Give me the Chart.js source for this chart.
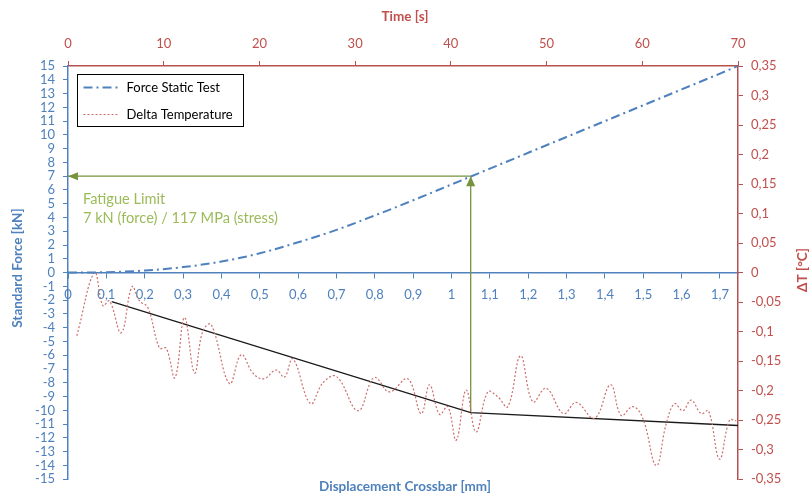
<!DOCTYPE html>
<html>
<head>
<meta charset="utf-8">
<script src="https://cdn.jsdelivr.net/npm/chart.js@4.4.1/dist/chart.umd.min.js"></script>
<style>
    html, body { margin: 0; padding: 0; background: #fff; }
    #wrap { width: 810px; height: 495px; position: relative; }
</style>
</head>
<body>
<div id="wrap"><canvas id="chart"></canvas></div>
<script>
// Force Static Test: displacement [mm] -> force [kN]
const displacement = [0, 0.1, 0.2, 0.3, 0.4, 0.5, 0.6, 0.7, 0.8, 0.9, 1.0, 1.1, 1.2, 1.3, 1.4, 1.5, 1.6, 1.7, 1.747];
const force = [0, 0.03, 0.15, 0.4, 0.8, 1.4, 2.2, 3.1, 4.15, 5.25, 6.4, 7.55, 8.7, 9.85, 11.0, 12.15, 13.3, 14.45, 15.0];

// Delta Temperature: time [s] -> dT [°C]
const timeSec = [0.92, 2.77, 3.64, 4.34, 5.56, 6.69, 7.47, 8.34, 9.56, 10.26, 11.18, 12.17, 13.22, 14.08, 14.96,
    16.87, 18.10, 19.31, 20.43, 21.75, 22.62, 23.49, 25.34, 26.62, 28.05, 30.28, 31.71, 32.2, 33.59, 35.5,
    36.9, 37.77, 38.82, 39.68, 40.56, 41.6, 42.63, 43.86, 44.88, 45.95, 47.28, 48.56, 49.96, 51.77, 53.1,
    55.01, 56.68, 57.8, 59.01, 60.06, 61.46, 62.5, 63.37, 64.23, 65.11, 66.16, 66.92, 68.07, 69.11, 69.81];
const deltaT = [-0.107, 0.0, -0.056, -0.048, -0.102, -0.024, -0.048, -0.059, -0.128, -0.128, -0.178, -0.076, -0.170, -0.099, -0.088,
    -0.188, -0.139, -0.170, -0.180, -0.165, -0.177, -0.146, -0.222, -0.187, -0.176, -0.234, -0.182, -0.178, -0.202, -0.180,
    -0.239, -0.190, -0.240, -0.227, -0.284, -0.199, -0.270, -0.202, -0.210, -0.227, -0.141, -0.219, -0.196, -0.239, -0.220,
    -0.247, -0.190, -0.242, -0.227, -0.247, -0.327, -0.256, -0.222, -0.234, -0.216, -0.239, -0.234, -0.316, -0.250, -0.251];

// Trend of the temperature, in force units on the displacement axis
const trendDisp = [0.114, 1.05, 1.747];
const trendForce = [-2.1, -10.16, -11.1];

// Fatigue limit marker
const fatigueDisp = 1.05;
const fatigueForce = 7;

// Tick lists
const dispTicks = [0, 0.1, 0.2, 0.3, 0.4, 0.5, 0.6, 0.7, 0.8, 0.9, 1, 1.1, 1.2, 1.3, 1.4, 1.5, 1.6, 1.7];
const forceTicks = [-15, -14, -13, -12, -11, -10, -9, -8, -7, -6, -5, -4, -3, -2, -1, 0,
    1, 2, 3, 4, 5, 6, 7, 8, 9, 10, 11, 12, 13, 14, 15];
const timeTicks = [0, 10, 20, 30, 40, 50, 60, 70];
const tempTicks = [-0.35, -0.3, -0.25, -0.2, -0.15, -0.1, -0.05, 0, 0.05, 0.1, 0.15, 0.2, 0.25, 0.3, 0.35];

const BLUE = '#4f81bd';
const RED = '#c0504d';
const RED_AXIS = '#b5524f';
const TEMP_LINE = '#cc6f6c';
const GREEN = '#77933c';
const GREEN_TEXT = '#9bbb59';
const FONT = 'Lato, "Liberation Sans", sans-serif';

const comma = v => String(Math.round(v * 100) / 100).replace('.', ',');
const setTicks = list => scale => { scale.ticks = list.map(v => ({ value: v })); };

// Titles, legend, arrowheads and annotation text
const decorPlugin = {
    id: 'decor',
    afterDraw(chart) {
        const ctx = chart.ctx;
        const area = chart.chartArea;
        const sx = chart.scales.x;
        const sy = chart.scales.y;
        const midX = (area.left + area.right) / 2;

        ctx.save();
        ctx.font = `bold 13.5px ${FONT}`;
        ctx.textAlign = 'center';
        ctx.textBaseline = 'middle';

        ctx.fillStyle = RED;
        ctx.fillText('Time [s]', midX + 2, 17);
        ctx.fillStyle = BLUE;
        ctx.fillText('Displacement Crossbar [mm]', midX + 2, 487);

        ctx.save();
        ctx.translate(18, 268);
        ctx.rotate(-Math.PI / 2);
        ctx.fillStyle = BLUE;
        ctx.fillText('Standard Force [kN]', 0, 0);
        ctx.restore();

        ctx.save();
        ctx.translate(803, 270);
        ctx.rotate(-Math.PI / 2);
        ctx.fillStyle = RED;
        ctx.fillText('ΔT [°C]', 0, 0);
        ctx.restore();

        // arrowheads
        ctx.fillStyle = GREEN;
        const ax = sx.getPixelForValue(fatigueDisp);
        const ay = sy.getPixelForValue(fatigueForce);
        ctx.beginPath();
        ctx.moveTo(ax, ay);
        ctx.lineTo(ax - 4.5, ay + 10);
        ctx.lineTo(ax + 4.5, ay + 10);
        ctx.closePath();
        ctx.fill();
        const lx = sx.getPixelForValue(0);
        ctx.beginPath();
        ctx.moveTo(lx, ay);
        ctx.lineTo(lx + 10, ay - 4);
        ctx.lineTo(lx + 10, ay + 4);
        ctx.closePath();
        ctx.fill();

        // annotation text
        ctx.font = `14.6px ${FONT}`;
        ctx.textAlign = 'left';
        ctx.fillStyle = GREEN_TEXT;
        ctx.fillText('Fatigue Limit', area.left + 15, 199);
        ctx.fillText('7 kN (force) / 117 MPa (stress)', area.left + 15, 218);

        // legend
        const bx = 77.5, by = 74.5;
        ctx.fillStyle = '#fff';
        ctx.fillRect(bx, by, 166, 52);
        ctx.strokeStyle = '#000';
        ctx.lineWidth = 1;
        ctx.strokeRect(bx, by, 166, 52);
        const items = [chart.data.datasets[0], chart.data.datasets[1]];
        items.forEach((ds, i) => {
            const yy = by + 13 + i * 27;
            ctx.save();
            ctx.strokeStyle = ds.borderColor;
            ctx.lineWidth = ds.borderWidth;
            ctx.setLineDash(ds.borderDash);
            ctx.beginPath();
            ctx.moveTo(bx + 6, yy);
            ctx.lineTo(bx + 40, yy);
            ctx.stroke();
            ctx.restore();
            ctx.fillStyle = '#000';
            ctx.font = `13px ${FONT}`;
            ctx.fillText(ds.label, bx + 49, yy);
        });
        ctx.restore();
    }
};

const baseGrid = (color) => ({ display: true, drawOnChartArea: false, drawTicks: true, tickLength: 5, color: color, lineWidth: 1 });

new Chart(document.getElementById('chart'), {
    type: 'line',
    data: {
        datasets: [
            {
                label: 'Force Static Test',
                data: displacement.map((d, i) => ({ x: d, y: force[i] })),
                xAxisID: 'x', yAxisID: 'y',
                borderColor: BLUE, borderWidth: 2, borderDash: [9, 4, 2, 4],
                pointRadius: 0, cubicInterpolationMode: 'monotone'
            },
            {
                label: 'Delta Temperature',
                data: timeSec.map((t, i) => ({ x: t, y: deltaT[i] })),
                xAxisID: 'x2', yAxisID: 'y2',
                borderColor: TEMP_LINE, borderWidth: 1.2, borderDash: [2, 2],
                pointRadius: 0, tension: 0.4
            },
            {
                label: 'trend',
                data: trendDisp.map((d, i) => ({ x: d, y: trendForce[i] })),
                xAxisID: 'x', yAxisID: 'y',
                borderColor: '#1a1a1a', borderWidth: 1.3, pointRadius: 0, tension: 0
            },
            {
                label: 'fatigue horizontal',
                data: [{ x: fatigueDisp, y: fatigueForce }, { x: 0, y: fatigueForce }],
                xAxisID: 'x', yAxisID: 'y',
                borderColor: GREEN, borderWidth: 1.3, pointRadius: 0, tension: 0
            },
            {
                label: 'fatigue vertical',
                data: [{ x: fatigueDisp, y: trendForce[1] }, { x: fatigueDisp, y: fatigueForce }],
                xAxisID: 'x', yAxisID: 'y',
                borderColor: GREEN, borderWidth: 1.3, pointRadius: 0, tension: 0
            }
        ]
    },
    options: {
        responsive: true,
        maintainAspectRatio: false,
        animation: false,
        layout: { padding: 0 },
        plugins: { legend: { display: false }, tooltip: { enabled: false } },
        scales: {
            x: {
                type: 'linear', position: { y: 0 }, min: 0, max: 1.747,
                afterBuildTicks: setTicks(dispTicks),
                afterFit: s => { s.height = 20; },
                grid: baseGrid(BLUE),
                border: { display: true, color: BLUE, width: 1.5 },
                ticks: { color: BLUE, font: { family: FONT, size: 13 }, padding: 9, maxRotation: 0, autoSkip: false, callback: v => comma(v) }
            },
            x2: {
                type: 'linear', position: 'top', min: 0, max: 70,
                afterBuildTicks: setTicks(timeTicks),
                afterFit: s => { s.height = 66; },
                grid: baseGrid(RED_AXIS),
                border: { display: true, color: RED_AXIS, width: 1.5 },
                ticks: { color: RED, font: { family: FONT, size: 13 }, padding: 9, maxRotation: 0, autoSkip: false, callback: v => comma(v) }
            },
            y: {
                type: 'linear', position: 'left', min: -15, max: 15,
                afterBuildTicks: setTicks(forceTicks),
                afterFit: s => { s.width = 68; },
                grid: baseGrid(BLUE),
                border: { display: true, color: BLUE, width: 1.5 },
                ticks: { color: BLUE, font: { family: FONT, size: 13 }, padding: 8, autoSkip: false, callback: v => comma(v) }
            },
            y2: {
                type: 'linear', position: 'right', min: -0.35, max: 0.35,
                afterBuildTicks: setTicks(tempTicks),
                afterFit: s => { s.width = 72; },
                grid: baseGrid(RED_AXIS),
                border: { display: true, color: RED_AXIS, width: 1.5 },
                ticks: { color: RED, font: { family: FONT, size: 13 }, padding: 8, autoSkip: false, callback: v => comma(v) }
            }
        }
    },
    plugins: [decorPlugin]
});
</script>
</body>
</html>
